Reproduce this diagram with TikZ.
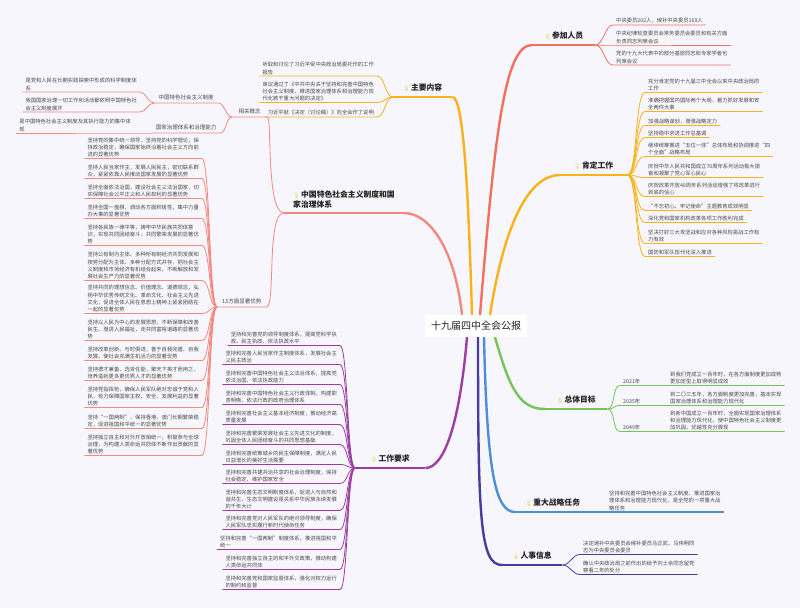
\documentclass[tikz,border=0pt]{standalone}
\usepackage{fontspec}
\setmainfont{Noto Sans CJK SC}
\newfontfamily\emojifont{Noto Emoji}
\usetikzlibrary{positioning}

\definecolor{bgcol}{HTML}{F6F6FC}
\definecolor{txtcol}{HTML}{4A4A4A}
\definecolor{topcol}{HTML}{222222}
\definecolor{cjcol}{HTML}{F2705E}
\definecolor{zycol}{HTML}{F7B317}
\definecolor{zgcol}{HTML}{F2897C}
\definecolor{gzcol}{HTML}{9B3DA2}
\definecolor{ztcol}{HTML}{74C45A}
\definecolor{zdcol}{HTML}{4E8ED6}
\definecolor{rscol}{HTML}{4A3C9C}
\definecolor{bulbcol}{HTML}{F9C824}

\newcommand{\bulb}{{\fontsize{5.5}{5.5}\emojifont\textcolor{bulbcol}{💡}}\hspace{1pt}}

\begin{document}
\begin{tikzpicture}[x=1pt, y=-1pt,
  root/.style={fill=white, text=topcol, font=\fontsize{10}{12}\selectfont,
               inner xsep=6pt, minimum height=22pt},
  topic/.style={anchor=south west, text=topcol, font=\fontsize{7.8}{9.6}\selectfont\bfseries,
                inner xsep=0pt, inner ysep=5pt},
  sub/.style={anchor=south west, text=txtcol, font=\fontsize{5.5}{7}\selectfont,
              inner xsep=0pt, inner ysep=2.5pt},
  leaf/.style={text=txtcol, font=\fontsize{5.3}{7.2}\selectfont, align=left,
               inner xsep=3pt, inner ysep=1.3pt},
  trunk/.style={line width=2.4pt},
  bar/.style={line width=1.4pt},
  twig/.style={line width=0.8pt}]

\fill[bgcol] (0,0) rectangle (800,608);
\useasboundingbox (0,0) rectangle (800,608);

\node[root] (root) at (476,326) {十九届四中全会公报};

% main topics
\node[topic, minimum width=63pt] (cj) at (532,45) {\bulb 参加人员};
\node[topic, minimum width=59pt] (zy) at (393,97) {\bulb 主要内容};
\node[topic, minimum width=67pt] (kd) at (560,175) {\bulb 肯定工作};
\node[topic, align=left, inner xsep=9pt] (zg) at (284,213) {\bulb 中国特色社会主义制度和国\\家治理体系};
\node[topic, minimum width=70pt] (gz) at (355,468) {\bulb 工作要求};
\node[topic, minimum width=62pt] (zt) at (545,409) {\bulb 总体目标};
\node[topic, minimum width=75pt] (zd) at (515,512) {\bulb 重大战略任务};
\node[topic, minimum width=60pt] (rs) at (502,565) {\bulb 人事信息};

\draw[trunk, zgcol] ([xshift=-14pt]root.north) .. controls (455,250) and (430,213) .. (zg.south east);
\draw[trunk, zycol] ([xshift=-4pt]root.north) .. controls (468,180) and (463,97) .. (zy.south east);
\draw[trunk, cjcol] ([xshift=4pt]root.north) .. controls (495,130) and (505,45) .. (cj.south west);
\draw[trunk, zycol] ([xshift=14pt]root.north) .. controls (505,220) and (530,175) .. (kd.south west);
\draw[trunk, gzcol] ([xshift=-9pt]root.south) .. controls (460,420) and (445,468) .. (gz.south east);
\draw[trunk, rscol] ([xshift=2pt]root.south) .. controls (478,520) and (480,565) .. (rs.south west);
\draw[trunk, zdcol] ([xshift=8pt]root.south) .. controls (487,470) and (495,512) .. (zd.south west);
\draw[trunk, ztcol] ([xshift=19pt]root.south) .. controls (510,390) and (520,409) .. (zt.south west);

\draw[bar, zgcol] (zg.south east) -- (zg.south west);
\draw[bar, zycol] (zy.south east) -- (zy.south west);
\draw[bar, cjcol] (cj.south west) -- (cj.south east);
\draw[bar, zycol] (kd.south west) -- (kd.south east);
\draw[bar, gzcol] (gz.south east) -- (gz.south west);
\draw[bar, rscol] (rs.south west) -- (rs.south east);
\draw[bar, zdcol] (zd.south west) -- (zd.south east);
\draw[bar, ztcol] (zt.south west) -- (zt.south east);

% 参加人员
\foreach \y/\txt [count=\i] in {25/{中央委员202人，候补中央委员169人},
  45/{中央纪律检查委员会常务委员会委员和有关方面\\负责同志列席会议},
  65/{党的十九大代表中的部分基层同志和专家学者也\\列席会议}} {
  \node[leaf, anchor=south west] (cj\i) at (613,\y) {\txt};
  \draw[twig, cjcol] (cj.south east) .. controls +(8,0) and +(-8,0) .. (cj\i.south west) -- (cj\i.south east);
}

% 主要内容
\foreach \y/\txt [count=\i] in {76/{听取和讨论了习近平受中央政治局委托作的工作\\报告},
  102.5/{审议通过了《中共中央关于坚持和完善中国特色\\社会主义制度、推进国家治理体系和治理能力现\\代化若干重大问题的决定》},
  117/{习近平就《决定（讨论稿）》向全会作了说明}} {
  \node[leaf, anchor=south east] (zy\i) at (377,\y) {\txt};
  \draw[twig, zycol] (zy.south west) .. controls +(-8,0) and +(8,0) .. (zy\i.south east) -- (zy\i.south west);
}

% 肯定工作
\foreach \y/\txt [count=\i] in {92.5/{充分肯定党的十九届三中全会以来中央政治局的\\工作},
  111.5/{准确把握国内国际两个大局，着力抓好发展和安\\全两件大事},
  125.5/{加强战略谋划，增强战略定力},
  137.5/{坚持稳中求进工作总基调},
  156.5/{继续统筹推进“五位一体”总体布局和协调推进“四\\个全面”战略布局},
  177.5/{庆祝中华人民共和国成立70周年系列活动极大振\\奋和凝聚了党心军心民心},
  196.5/{庆祝改革开放40周年系列活动增强了将改革进行\\到底的信心},
  210.5/{“不忘初心、牢记使命”主题教育成效明显},
  222.5/{深化党和国家机构改革各项工作胜利完成},
  243.5/{坚决打好三大攻坚战和应对各种风险挑战工作有\\力有效},
  256.5/{国防和军队现代化深入推进}} {
  \node[leaf, anchor=south west] (kd\i) at (645,\y) {\txt};
  \draw[twig, zycol] (kd.south east) .. controls +(10,0) and +(-10,0) .. (kd\i.south west) -- (kd\i.south east);
}

% 总体目标
\foreach \yr/\y/\txt [count=\i] in {2021年/385.5/{到我们党成立一百年时，在各方面制度更加成熟\\更加定型上取得明显成效},
  2035年/405.5/{到二〇三五年，各方面制度更加完善，基本实现\\国家治理体系和治理能力现代化},
  2049年/431.5/{到新中国成立一百年时，全面实现国家治理体系\\和治理能力现代化，使中国特色社会主义制度更\\加巩固、优越性充分展现}} {
  \node[leaf, anchor=south west] (yr\i) at (620,\y) {\yr};
  \node[leaf, anchor=south west] (zt\i) at (667,\y) {\txt};
  \draw[twig, ztcol] (zt.south east) .. controls +(8,0) and +(-8,0) .. (yr\i.south west) -- (zt\i.south east);
}

% 重大战略任务
\node[leaf, anchor=south west] (zd1) at (606,512) {坚持和完善中国特色社会主义制度、推进国家治\\理体系和治理能力现代化，是全党的一项重大战\\略任务};
\draw[bar, zdcol] (zd.south east) -- (zd1.south west) -- (zd1.south east);

% 人事信息
\foreach \y/\txt [count=\i] in {554.5/{决定递补中央委员会候补委员马正武、马伟明同\\志为中央委员会委员},
  574.5/{确认中央政治局之前作出的给予刘士余同志留党\\察看二年的处分}} {
  \node[leaf, anchor=south west] (rs\i) at (580,\y) {\txt};
  \draw[twig, rscol] (rs.south east) .. controls +(8,0) and +(-8,0) .. (rs\i.south west) -- (rs\i.south east);
}

% 工作要求
\foreach \y/\txt [count=\i] in {345.5/{坚持和完善党的领导制度体系，提高党科学执\\政、民主执政、依法执政水平},
  364.5/{坚持和完善人民当家作主制度体系，发展社会主\\义民主政治},
  384.5/{坚持和完善中国特色社会主义法治体系，提高党\\依法治国、依法执政能力},
  404.5/{坚持和完善中国特色社会主义行政体制，构建职\\责明晰、依法行政的政府治理体系},
  424.5/{坚持和完善社会主义基本经济制度，推动经济高\\质量发展},
  444.5/{坚持和完善繁荣发展社会主义先进文化的制度，\\巩固全体人民团结奋斗的共同思想基础},
  464.5/{坚持和完善统筹城乡的民生保障制度，满足人民\\日益增长的美好生活需要},
  483.5/{坚持和完善共建共治共享的社会治理制度，保持\\社会稳定、维护国家安全},
  510.5/{坚持和完善生态文明制度体系，促进人与自然和\\谐共生，生态文明建设是关系中华民族永续发展\\的千年大计},
  529.5/{坚持和完善党对人民军队的绝对领导制度，确保\\人民军队忠实履行新时代使命任务},
  549.5/{坚持和完善“一国两制”制度体系，推进祖国和平\\统一},
  569.5/{坚持和完善独立自主的和平外交政策，推动构建\\人类命运共同体},
  589.5/{坚持和完善党和国家监督体系，强化对权力运行\\的制约和监督}} {
  \node[leaf, anchor=south east] (gz\i) at (340,\y) {\txt};
  \draw[twig, gzcol] (gz.south west) .. controls +(-8,0) and +(8,0) .. (gz\i.south east) -- (gz\i.south west);
}

% 中国特色社会主义制度和国家治理体系
\node[sub, minimum width=35pt] (gn) at (232,117) {相关概念};
\node[sub, minimum width=49pt] (ys) at (217,307) {13方面显著优势};
\draw[twig, zgcol] (zg.south west) .. controls (266,213) and (272,117) .. (gn.south east) -- (gn.south west);
\draw[twig, zgcol] (zg.south west) .. controls (266,213) and (276,307) .. (ys.south east) -- (ys.south west);

\node[sub, minimum width=64pt] (zgzd) at (154,103) {中国特色社会主义制度};
\node[sub, minimum width=68pt] (zlnl) at (152,133) {国家治理体系和治理能力};
\draw[twig, zgcol] (gn.south west) .. controls +(-6,0) and +(6,0) .. (zgzd.south east) -- (zgzd.south west);
\draw[twig, zgcol] (gn.south west) .. controls +(-6,0) and +(6,0) .. (zlnl.south east) -- (zlnl.south west);

\node[leaf, anchor=south east] (gn1) at (140,92) {是党和人民在长期实践探索中形成的科学制度体\\系};
\node[leaf, anchor=south east] (gn2) at (140,112) {我国国家治理一切工作和活动都依照中国特色社\\会主义制度展开};
\node[leaf, anchor=south east] (gn3) at (134,133) {是中国特色社会主义制度及其执行能力的集中体\\现};
\draw[twig, zgcol] (zgzd.south west) .. controls +(-6,0) and +(6,0) .. (gn1.south east) -- (gn1.south west);
\draw[twig, zgcol] (zgzd.south west) .. controls +(-6,0) and +(6,0) .. (gn2.south east) -- (gn2.south west);
\draw[twig, zgcol] (zlnl.south west) -- (gn3.south east) -- (gn3.south west);

\foreach \y/\txt [count=\i] in {158.5/{坚持党的集中统一领导，坚持党的科学理论，保\\持政治稳定，确保国家始终沿着社会主义方向前\\进的显著优势},
  178.5/{坚持人民当家作主，发展人民民主，密切联系群\\众，紧紧依靠人民推动国家发展的显著优势},
  198.5/{坚持全面依法治国，建设社会主义法治国家，切\\实保障社会公平正义和人民权利的显著优势},
  218.5/{坚持全国一盘棋，调动各方面积极性，集中力量\\办大事的显著优势},
  245.5/{坚持各民族一律平等，铸牢中华民族共同体意\\识，实现共同团结奋斗、共同繁荣发展的显著优\\势},
  280.5/{坚持公有制为主体、多种所有制经济共同发展和\\按劳分配为主体、多种分配方式并存，把社会主\\义制度和市场经济有机结合起来，不断解放和发\\展社会生产力的显著优势},
  313.5/{坚持共同的理想信念、价值理念、道德观念，弘\\扬中华优秀传统文化、革命文化、社会主义先进\\文化，促进全体人民在思想上精神上紧紧团结在\\一起的显著优势},
  340.5/{坚持以人民为中心的发展思想，不断保障和改善\\民生、增进人民福祉，走共同富裕道路的显著优\\势},
  360.5/{坚持改革创新、与时俱进，善于自我完善、自我\\发展，使社会充满生机活力的显著优势},
  380.5/{坚持德才兼备、选贤任能，聚天下英才而用之，\\培养造就更多更优秀人才的显著优势},
  407.5/{坚持党指挥枪，确保人民军队绝对忠诚于党和人\\民，有力保障国家主权、安全、发展利益的显著\\优势},
  428.5/{坚持“一国两制”，保持香港、澳门长期繁荣稳\\定，促进祖国和平统一的显著优势},
  455.5/{坚持独立自主和对外开放相统一，积极参与全球\\治理，为构建人类命运共同体不断作出贡献的显\\著优势}} {
  \node[leaf, anchor=south east] (ys\i) at (202,\y) {\txt};
  \draw[twig, zgcol] (ys.south west) .. controls +(-8,0) and +(8,0) .. (ys\i.south east) -- (ys\i.south west);
}
\end{tikzpicture}
\end{document}
